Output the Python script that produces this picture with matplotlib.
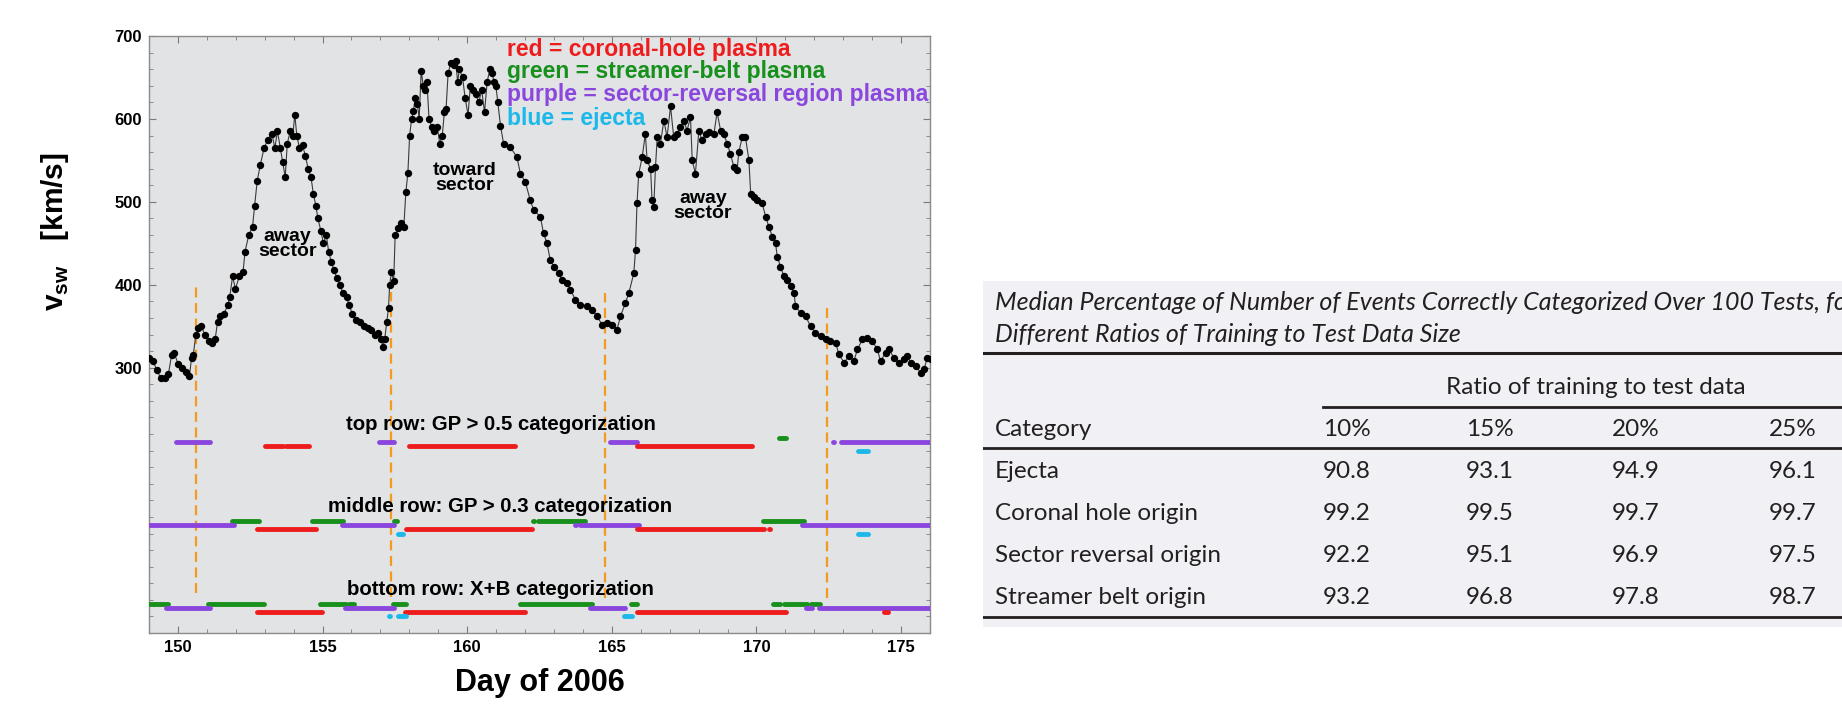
import matplotlib
matplotlib.use("Agg")
import matplotlib.pyplot as plt
from matplotlib.ticker import MultipleLocator

plt.rcParams['font.family'] = ['Liberation Sans', 'DejaVu Sans']
plt.rcParams['mathtext.fontset'] = 'custom'
plt.rcParams['mathtext.bf'] = 'Liberation Sans:bold'
plt.rcParams['mathtext.rm'] = 'Liberation Sans'

# solar wind speed, day of year 2006
day = [149.01, 149.14, 149.27, 149.41, 149.54, 149.67, 149.78, 149.87, 150.00, 150.13,
       150.27, 150.40, 150.47, 150.53, 150.62, 150.70, 150.80, 150.93, 151.06, 151.19,
       151.29, 151.37, 151.46, 151.59, 151.72, 151.79, 151.89, 151.99, 152.12, 152.25,
       152.32, 152.45, 152.58, 152.65, 152.74, 152.85, 152.98, 153.11, 153.25, 153.35,
       153.44, 153.54, 153.62, 153.71, 153.78, 153.88, 153.97, 154.04, 154.11, 154.20,
       154.31, 154.41, 154.50, 154.60, 154.68, 154.77, 154.84, 154.94, 155.03, 155.13,
       155.21, 155.30, 155.39, 155.50, 155.60, 155.70, 155.83, 155.92, 156.03, 156.16,
       156.29, 156.42, 156.56, 156.69, 156.82, 156.93, 157.02, 157.09, 157.15, 157.22,
       157.28, 157.32, 157.38, 157.46, 157.51, 157.62, 157.72, 157.81, 157.88, 157.95,
       158.01, 158.08, 158.14, 158.21, 158.28, 158.34, 158.41, 158.48, 158.54, 158.61,
       158.68, 158.78, 158.87, 158.97, 159.05, 159.14, 159.21, 159.27, 159.34, 159.44,
       159.54, 159.60, 159.67, 159.73, 159.84, 159.93, 160.03, 160.11, 160.20, 160.29,
       160.40, 160.50, 160.60, 160.69, 160.79, 160.86, 160.93, 160.99, 161.06, 161.15,
       161.26, 161.49, 161.72, 161.84, 162.01, 162.18, 162.30, 162.53, 162.64, 162.76,
       162.87, 162.99, 163.16, 163.28, 163.45, 163.57, 163.74, 163.91, 164.14, 164.32,
       164.49, 164.66, 164.84, 165.01, 165.18, 165.30, 165.47, 165.59, 165.76, 165.82,
       165.87, 165.93, 166.05, 166.16, 166.22, 166.34, 166.39, 166.45, 166.51, 166.57,
       166.68, 166.80, 166.91, 167.03, 167.14, 167.26, 167.37, 167.49, 167.60, 167.72,
       167.78, 167.89, 168.01, 168.12, 168.24, 168.35, 168.53, 168.64, 168.76, 168.87,
       168.99, 169.10, 169.22, 169.33, 169.39, 169.51, 169.62, 169.74, 169.80, 169.91,
       170.03, 170.20, 170.32, 170.43, 170.55, 170.66, 170.72, 170.83, 170.95, 171.06,
       171.18, 171.30, 171.35, 171.53, 171.70, 171.87, 172.04, 172.22, 172.39, 172.56,
       172.74, 172.85, 173.03, 173.20, 173.37, 173.49, 173.66, 173.83, 174.01, 174.18,
       174.29, 174.47, 174.58, 174.75, 174.93, 175.10, 175.22, 175.33, 175.50, 175.68,
       175.79, 175.91, 176.02]
vsw = [312, 308, 297, 287, 288, 292, 315, 318, 305, 300,
       295, 290, 312, 315, 340, 348, 350, 340, 332, 330,
       335, 355, 362, 365, 375, 385, 410, 395, 410, 415,
       440, 460, 470, 495, 525, 545, 565, 575, 582, 565,
       585, 565, 548, 530, 570, 585, 580, 605, 580, 565,
       568, 555, 540, 530, 510, 495, 480, 465, 450, 460,
       440, 428, 418, 408, 400, 390, 385, 375, 365, 358,
       355, 350, 348, 345, 340, 342, 335, 325, 335, 355,
       372, 400, 415, 405, 460, 468, 475, 470, 512, 535,
       580, 600, 610, 625, 618, 600, 658, 640, 635, 645,
       600, 590, 585, 590, 570, 580, 608, 612, 655, 668,
       665, 670, 645, 660, 650, 625, 605, 640, 635, 630,
       620, 635, 608, 645, 660, 655, 645, 640, 620, 592,
       570, 566, 554, 534, 524, 502, 490, 482, 462, 450,
       430, 422, 414, 406, 402, 394, 382, 376, 374, 370,
       362, 352, 354, 352, 346, 362, 378, 390, 414, 442,
       498, 534, 554, 582, 550, 540, 502, 494, 542, 578,
       570, 598, 578, 615, 578, 582, 590, 598, 586, 602,
       550, 534, 586, 574, 582, 584, 582, 608, 586, 582,
       570, 558, 542, 538, 560, 578, 578, 550, 510, 506,
       502, 498, 482, 470, 458, 450, 434, 422, 410, 406,
       398, 390, 374, 366, 362, 350, 342, 338, 334, 332,
       330, 316, 306, 314, 308, 322, 334, 336, 332, 322,
       308, 318, 322, 312, 306, 310, 314, 306, 302, 294,
       298, 312, 310]

# sector boundaries (day, lower end, upper end)
boundary_day = [150.63, 157.37, 164.78, 172.43]
boundary_lo = [28, 23, 22, 22]
boundary_hi = [397, 391, 390, 378]

# categorization intervals (start day, end day) for each row
top_red = [(153.01, 153.64), (153.75, 154.54), (157.98, 161.65), (165.87, 169.85)]
top_green = [(170.78, 171.01)]
top_purple = [(149.94, 151.10), (156.95, 157.48), (164.95, 165.87), (172.65, 172.67),
              (172.91, 175.97)]
top_blue = [(173.52, 173.86)]

mid_red = [(152.74, 154.77), (157.88, 162.24), (165.87, 170.26), (170.43, 170.46)]
mid_green = [(151.68, 151.70), (151.86, 152.82), (154.64, 155.72), (157.48, 157.59),
             (162.28, 162.30), (162.44, 164.09), (170.05, 170.07), (170.23, 171.64)]
mid_purple = [(148.98, 151.95), (155.67, 157.48), (163.74, 163.76), (163.91, 165.93),
              (171.58, 176.0)]
mid_blue = [(151.10, 151.12), (157.62, 157.77), (173.52, 173.86)]

bot_red = [(152.72, 154.97), (157.85, 162.01), (165.87, 171.01), (174.41, 174.56)]
bot_green = [(148.98, 149.64), (151.03, 152.98), (154.91, 155.80), (155.92, 156.09),
             (157.42, 157.88), (161.84, 164.32), (165.68, 165.87), (169.97, 169.99),
             (170.29, 170.31), (170.58, 170.81), (170.95, 171.76), (171.87, 172.20)]
bot_purple = [(149.58, 151.10), (155.76, 157.48), (164.26, 165.47), (171.73, 171.93),
              (172.16, 176.0)]
bot_blue = [(152.34, 152.36), (157.31, 157.33), (157.62, 157.88), (165.41, 165.70)]

row_base = [200, 100, 0]
row_labels = ["top row: GP > 0.5 categorization",
              "middle row: GP > 0.3 categorization",
              "bottom row: X+B categorization"]

# table: median % correctly categorized
tab_categories = ["Ejecta", "Coronal hole origin", "Sector reversal origin", "Streamer belt origin"]
tab_ratios = ["10%", "15%", "20%", "25%"]
tab_values = [[90.8, 93.1, 94.9, 96.1],
              [99.2, 99.5, 99.7, 99.7],
              [92.2, 95.1, 96.9, 97.5],
              [93.2, 96.8, 97.8, 98.7]]

RED = '#ee1c1c'
GREEN = '#17901c'
PURPLE = '#8b46de'
BLUE = '#1cb8ea'

W, H = 1842, 708
fig = plt.figure(figsize=(W / 100, H / 100), dpi=100)

ax = fig.add_axes([149 / W, (H - 633) / H, 781 / W, 597 / H])
ax.set_facecolor('#e1e3e5')
ax.plot(day, vsw, '-', color='#3a3a3a', lw=0.8, zorder=3)
ax.plot(day, vsw, 'o', color='black', ms=5.3, mew=0, zorder=4)

for d, lo, hi in zip(boundary_day, boundary_lo, boundary_hi):
    ax.plot([d, d], [lo, hi], color='#f39a1f', lw=1.6, dashes=(4.5, 2.5), zorder=2)

# each row: green / purple / red / blue tracks stacked just above the base
rows = [(top_green, top_purple, top_red, top_blue),
        (mid_green, mid_purple, mid_red, mid_blue),
        (bot_green, bot_purple, bot_red, bot_blue)]
offsets = [15, 10, 5, 0]
colors = [GREEN, PURPLE, RED, BLUE]
for base, tracks, label in zip(row_base, rows, row_labels):
    for segs, off, c in zip(tracks, offsets, colors):
        for s, e in segs:
            ax.plot([s, e], [base + off, base + off], color=c, lw=3.5,
                    solid_capstyle='round', zorder=3)
    ax.text(161.15, base + 32, label, ha='center', va='center',
            fontsize=14.7, fontweight='bold')

legend_lines = [("red = coronal-hole plasma", RED, 684),
                ("green = streamer-belt plasma", GREEN, 657),
                ("purple = sector-reversal region plasma", PURPLE, 629),
                ("blue = ejecta", BLUE, 601)]
for txt, c, y in legend_lines:
    ax.text(161.39, y, txt, color=c, ha='left', va='center',
            fontsize=16.5, fontweight='bold', zorder=5)

for x, y, txt in [(153.78, 449, "away\nsector"), (159.9, 529, "toward\nsector"),
                  (168.15, 495, "away\nsector")]:
    ax.text(x, y, txt, ha='center', va='center', fontsize=14,
            fontweight='bold', linespacing=0.85)

ax.set_xlim(149, 176)
ax.set_ylim(-20, 700)
ax.set_xticks([150, 155, 160, 165, 170, 175])
ax.set_yticks([300, 400, 500, 600, 700])
ax.xaxis.set_minor_locator(MultipleLocator(1))
ax.yaxis.set_minor_locator(MultipleLocator(20))
ax.tick_params(which='both', direction='in', top=True, right=True, color='#7a7a7a')
ax.tick_params(which='major', length=5, labelsize=12, pad=5)
ax.tick_params(which='minor', length=3)
for lbl in ax.get_xticklabels() + ax.get_yticklabels():
    lbl.set_fontweight('bold')
for sp in ax.spines.values():
    sp.set_color('#8a8a8a')
    sp.set_linewidth(1.0)

ax.set_xlabel("Day of 2006", fontsize=22, fontweight='bold')
ax.xaxis.set_label_coords(0.5, -0.084)
ax.xaxis.label.set_va('center')
ax.set_ylabel(r'$\mathbf{v}_{\mathbf{sw}}$   $\mathbf{[km/s]}$', fontsize=21.5)
ax.yaxis.set_label_coords(-0.12, 0.672)
ax.yaxis.label.set_va('center')

# table panel, laid out in pixel units
tab = fig.add_axes([983 / W, (H - 627) / H, (W - 983) / W, 346 / H])
tab.set_xlim(983, W)
tab.set_ylim(627, 281)
tab.set_facecolor('#f0f0f5')
tab.set_xticks([])
tab.set_yticks([])
for sp in tab.spines.values():
    sp.set_visible(False)

tfont = dict(family=['Lato', 'DejaVu Sans'], fontsize=17.5, color='#231f20', va='center')
x0 = 995
tab.text(x0, 303, "Median Percentage of Number of Events Correctly Categorized Over 100 Tests, for",
         style='italic', **{**tfont, 'fontsize': 18})
tab.text(x0, 334, "Different Ratios of Training to Test Data Size", style='italic',
         **{**tfont, 'fontsize': 18})
tab.axhline(353, color='#231f20', lw=2.2)
tab.text(1596, 387, "Ratio of training to test data", ha='center', **tfont)
tab.plot([1323, W], [407, 407], color='#231f20', lw=2.0)
col_x = [1323, 1466, 1612, 1769]
tab.text(x0, 429, "Category", **tfont)
for x, r in zip(col_x, tab_ratios):
    tab.text(x, 429, r, **tfont)
tab.axhline(448, color='#231f20', lw=2.0)
row_y = [472, 513, 555, 597]
for y, cat, vals in zip(row_y, tab_categories, tab_values):
    tab.text(x0, y, cat, **tfont)
    for x, v in zip(col_x, vals):
        tab.text(x, y, f"{v:.1f}", **tfont)
tab.axhline(617, color='#231f20', lw=2.0)

fig.savefig("out.png", dpi=100, facecolor='white')
